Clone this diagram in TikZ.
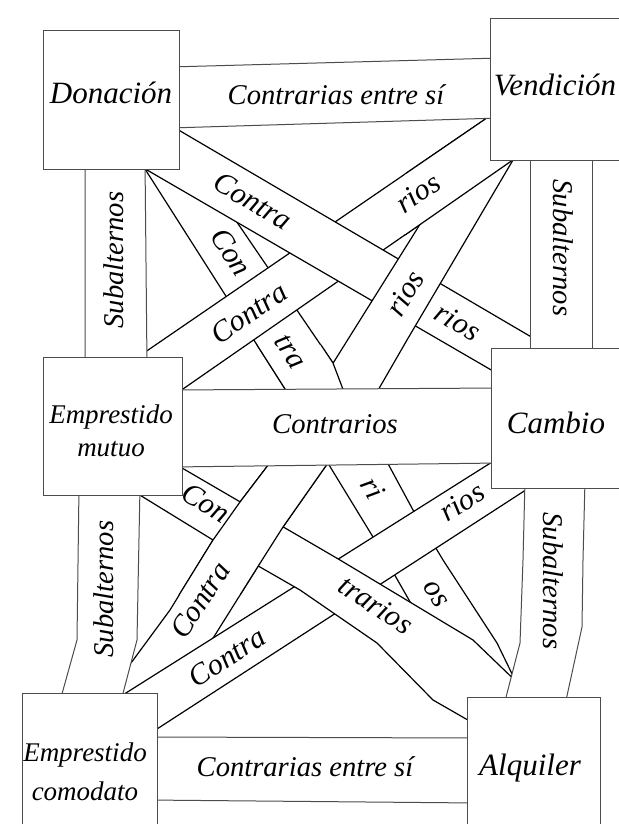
\documentclass[tikz,border=0pt]{standalone}
\usepackage{fontspec}
\setmainfont{Liberation Serif}
\usetikzlibrary{fit}

\begin{document}
\begin{tikzpicture}[
x=0.5pt, y=-0.5pt,
box/.style={draw=black!70, line width=0.5pt, fill=white, inner sep=0pt},
flat/.style={draw=black!70, line width=0.5pt, fill=white},
edge/.style={draw=black, line width=0.6pt, line join=round},
boxtext/.style={font=\fontsize{15.5}{18}\selectfont\itshape, inner sep=0pt, align=center},
bandtext/.style={font=\fontsize{15}{18}\selectfont\itshape, inner sep=0pt},
flattext/.style={font=\fontsize{14.3}{17}\selectfont\itshape, inner sep=0pt}
]

\useasboundingbox (0,0) rectangle (619,824);
\clip (0,0) rectangle (619,824);

\fill[white] (145,169) -- (287,392) -- (344,392) -- (333,363) -- (200,168) -- cycle;
\draw[edge] (145,169) -- (287,392);
\draw[edge] (344,392) -- (333,363) -- (200,168);

\fill[white] (135,359) -- (500,109) -- (520,155) -- (170,398) -- cycle;
\draw[edge] (135,359) -- (500,109);
\draw[edge] (170,398) -- (520,155);

\fill[white] (170,125) -- (545,345) -- (505,378) -- (135,163) -- cycle;
\draw[edge] (170,125) -- (545,345);
\draw[edge] (135,163) -- (505,378);

\fill[white] (454,170) -- (315,392) -- (377,392) -- (407,340) -- (513,160) -- cycle;
\draw[edge] (454,170) -- (315,392);
\draw[edge] (377,392) -- (407,340) -- (513,160);

\fill[white] (257,345) -- (287,392) -- (344,392) -- (333,363) -- (321,345) -- cycle;
\draw[edge] (257,345) -- (287,392);
\draw[edge] (344,392) -- (333,363) -- (321,345);

\fill[white] (405,174) -- (500,109) -- (520,155) -- (405,235) -- cycle;
\draw[edge] (405,174) -- (500,109);
\draw[edge] (520,155) -- (405,235);

\fill[white] (326,460) -- (373,537) -- (413,607) -- (470,655) -- (516,682) -- (497,643) -- (443,560) -- (413,510) -- (386,460) -- cycle;
\draw[edge] (326,460) -- (373,537) -- (413,607) -- (470,655) -- (516,682);
\draw[edge] (516,682) -- (497,643) -- (443,560) -- (413,510) -- (386,460);

\fill[white] (272,460) -- (240,502) -- (213,540) -- (170,610) -- (131,663) -- (124,697) -- (177,697) -- (210,643) -- (257,568) -- (283,527) -- (330,460) -- cycle;
\draw[edge] (272,460) -- (240,502) -- (213,540) -- (170,610) -- (131,663);
\draw[edge] (177,697) -- (210,643) -- (257,568) -- (283,527) -- (330,460);

\fill[white] (118,698) -- (500,457) -- (535,484) -- (140,740) -- cycle;
\draw[edge] (118,698) -- (500,457);
\draw[edge] (140,740) -- (535,484);

\fill[white] (170,461) -- (340,560) -- (473,640) -- (525,690) -- (480,727) -- (433,700) -- (377,643) -- (300,590) -- (213,540) -- (130,489) -- cycle;
\draw[edge] (170,461) -- (340,560) -- (473,640) -- (525,690);
\draw[edge] (480,727) -- (433,700) -- (377,643) -- (300,590) -- (213,540) -- (130,489);

\fill[white] (272,460) -- (240,502) -- (213,540) -- (179,595) -- (240,595) -- (257,568) -- (283,527) -- (330,460) -- cycle;
\draw[edge] (272,460) -- (240,502) -- (213,540) -- (179,595);
\draw[edge] (240,595) -- (257,568) -- (283,527) -- (330,460);

\draw[flat] (170,67) -- (500,58) -- (500,118) -- (170,128) -- cycle;
\draw[flat] (172,390) -- (500,388) -- (500,463) -- (172,467) -- cycle;
\draw[flat] (147,737) -- (477,738) -- (477,803) -- (147,800) -- cycle;

\draw[flat] (85,160) -- (85,365) -- (147,365) -- (145,160) -- cycle;
\draw[flat] (530,152) -- (530,356) -- (592,356) -- (592,152) -- cycle;
\draw[flat] (79,487) -- (77,640) -- (60,701) -- (121,701) -- (137,640) -- (140,487) -- cycle;
\draw[flat] (525,480) -- (523,560) -- (520,643) -- (504,705) -- (565,705) -- (582,627) -- (583,560) -- (585,480) -- cycle;

\node[box, fit={(43,31) (179,169)}] (don) {};

\node[box, fit={(490,19) (640,160)}] (ven) {};

\node[box, fit={(43,357) (182,495)}] (mut) {};

\node[box, fit={(491,348) (640,488)}] (cam) {};

\node[box, fit={(22,693) (157,840)}] (com) {};

\node[box, fit={(467,697) (600,840)}] (alq) {};

\node[boxtext] (don-t) at (111,93) {Donación};

\node[boxtext] (ven-t) at (555,85) {Vendición};

\node[boxtext, font=\fontsize{13.5}{16.5}\selectfont\itshape] (mut-t) at (111,431) {Emprestido\\mutuo};

\node[boxtext] (cam-t) at (556,423) {Cambio};

\node[boxtext, font=\fontsize{13.5}{19.5}\selectfont\itshape] (com-t) at (85,772) {Emprestido\\comodato};

\node[boxtext] (alq-t) at (530,768) {Alquiler};

\node[flattext] (top-t) at (336,95) {Contrarias entre sí};

\node[flattext] (mid-t) at (335,424) {Contrarios};

\node[flattext] (bot-t) at (305,767) {Contrarias entre sí};

\node[flattext, rotate=90] (sub1-t) at (114,260) {Subalternos};

\node[flattext, rotate=-90] (sub2-t) at (563,248) {Subalternos};

\node[flattext, rotate=90] (sub3-t) at (104,589) {Subalternos};

\node[flattext, rotate=-90] (sub4-t) at (553,581) {Subalternos};

\node[bandtext, rotate=-30.5] (a1-t) at (253,201) {Contra};

\node[bandtext, rotate=-30.5] (a2-t) at (458,322) {rios};

\node[bandtext, rotate=34.5] (b1-t) at (249,313) {Contra};

\node[bandtext, rotate=34.5] (b2-t) at (418,193) {rios};

\node[bandtext, rotate=-57] (c1-t) at (231,252) {Con};

\node[bandtext, rotate=-57] (c2-t) at (290,352) {tra};

\node[bandtext, rotate=59] (d-t) at (405,293) {rios};

\node[bandtext, rotate=-31] (e1-t) at (206,503) {Con};

\node[bandtext, rotate=-33] (e2-t) at (376,605) {trarios};

\node[bandtext, rotate=33] (f1-t) at (462,502) {rios};

\node[bandtext, rotate=33] (f2-t) at (227,657) {Contra};

\node[bandtext, rotate=57] (g-t) at (200,600) {Contra};

\node[bandtext, rotate=-60] (h1-t) at (373,488) {ri};

\node[bandtext, rotate=-58] (h2-t) at (435,594) {os};

\end{tikzpicture}
\end{document}
